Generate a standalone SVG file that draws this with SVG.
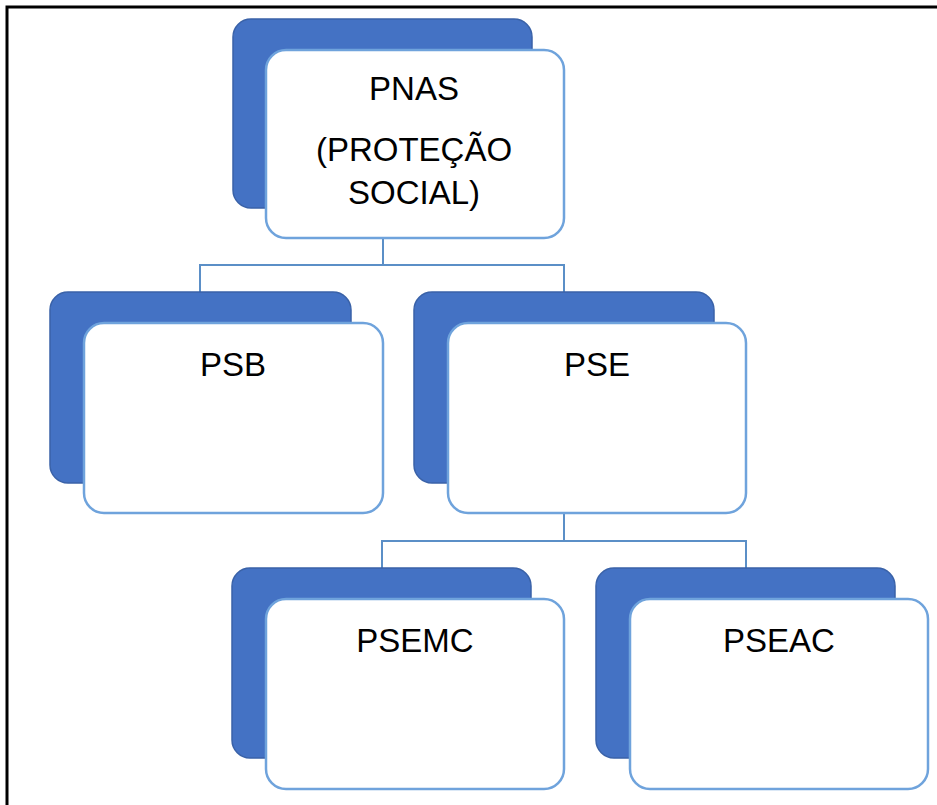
<svg xmlns="http://www.w3.org/2000/svg" width="937" height="805" viewBox="0 0 937 805">
<style>
.back{fill:#4472C4;stroke:#3A62A8;stroke-width:1.5}
.front{fill:#FFFFFF;stroke:#6FA3DC;stroke-width:2.5}
.conn{fill:none;stroke:#5B8FC7;stroke-width:2}
.lbl{font-family:"Liberation Sans",Arial,sans-serif;font-size:33px;fill:#000;text-anchor:middle}
</style>
<rect x="0" y="0" width="937" height="805" fill="#FFFFFF"/>
<path d="M7 805 V7 H937" fill="none" stroke="#000" stroke-width="3"/>
<g id="connectors">
<path class="conn" d="M383 238 V265 M200 292 V265 H564 V292"/>
<path class="conn" d="M564 513 V541 M382 568 V541 H746 V568"/>
</g>
<g id="pnas">
<rect class="back" x="233" y="19" width="299" height="189" rx="18"/>
<rect class="front" x="266" y="50" width="298" height="188" rx="20"/>
<text class="lbl" x="414" y="100">PNAS</text>
<text class="lbl" x="414" y="161">(PROTEÇÃO</text>
<text class="lbl" x="414" y="204">SOCIAL)</text>
</g>
<g id="psb">
<rect class="back" x="50" y="292" width="301" height="191" rx="18"/>
<rect class="front" x="84" y="323" width="299" height="190" rx="20"/>
<text class="lbl" x="233" y="376">PSB</text>
</g>
<g id="pse">
<rect class="back" x="414" y="292" width="300" height="191" rx="18"/>
<rect class="front" x="448" y="323" width="298" height="190" rx="20"/>
<text class="lbl" x="597" y="376">PSE</text>
</g>
<g id="psemc">
<rect class="back" x="232" y="568" width="299" height="190" rx="18"/>
<rect class="front" x="266" y="599" width="298" height="190" rx="20"/>
<text class="lbl" x="415" y="652">PSEMC</text>
</g>
<g id="pseac">
<rect class="back" x="596" y="568" width="299" height="190" rx="18"/>
<rect class="front" x="630" y="599" width="298" height="190" rx="20"/>
<text class="lbl" x="779" y="652">PSEAC</text>
</g>
</svg>
